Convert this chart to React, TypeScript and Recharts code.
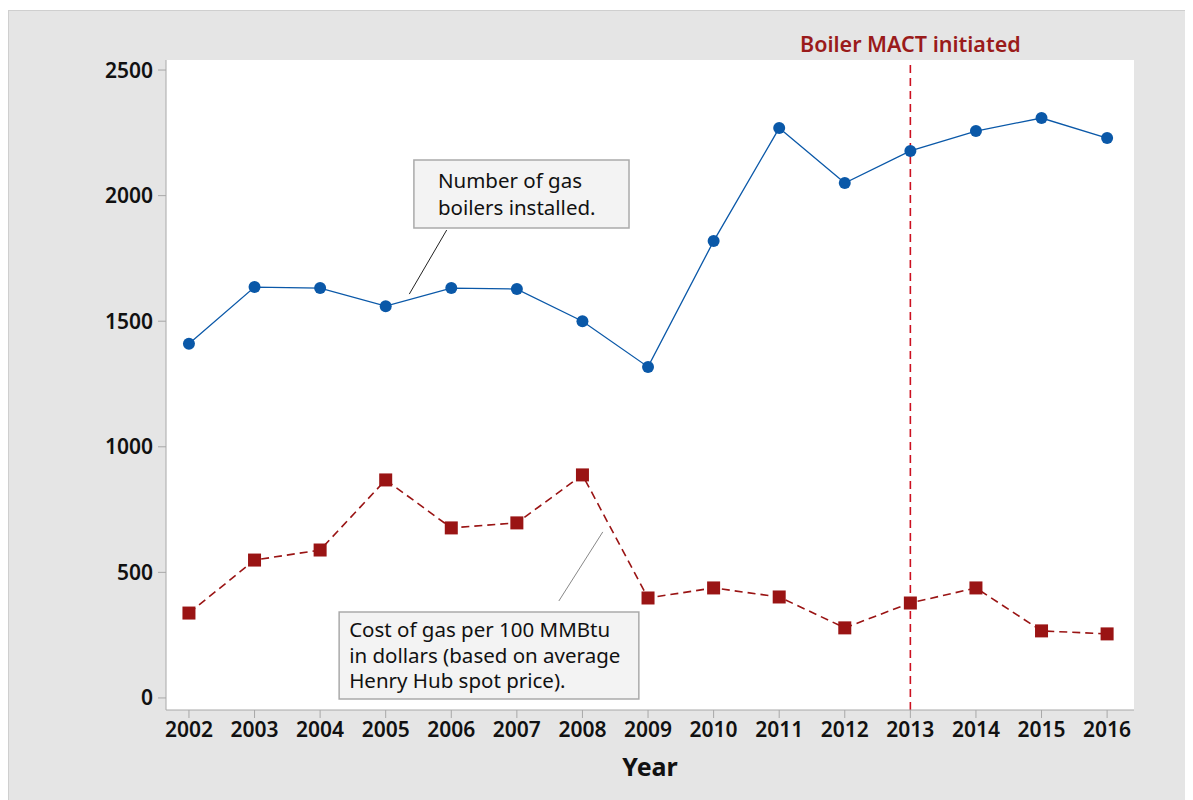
import React from 'react';
import {
  LineChart, Line, XAxis, YAxis, CartesianGrid, ReferenceLine, ReferenceArea, Label,
} from 'recharts';

const years = [2002, 2003, 2004, 2005, 2006, 2007, 2008, 2009, 2010, 2011, 2012, 2013, 2014, 2015, 2016];
const boilers = [1410, 1636, 1632, 1560, 1632, 1628, 1500, 1318, 1819, 2269, 2050, 2178, 2257, 2309, 2229];
const gasCost = [338, 549, 589, 868, 677, 697, 888, 398, 438, 402, 279, 378, 438, 267, 255];
const yTicks = [0, 500, 1000, 1500, 2000, 2500];
const mactYear = 2013;

const rows = years.map((y, i) => ({ year: y, boilers: boilers[i], cost: gasCost[i] }));

const FONT = '"Noto Sans", "Open Sans", sans-serif';
const BLUE = '#0a58a8';
const RED = '#9a1414';

const Square = (p: any) => {
  if (p.cx == null || p.cy == null) return null;
  return <rect x={p.cx - 6.5} y={p.cy - 6.5} width={13} height={13} fill={RED} />;
};

const boxText = (lines: string[], padX: number, padY: number, gap: number) => (props: any) => {
  const { x, y } = props.viewBox;
  return (
    <text x={x + padX} y={y + padY} fontSize={20.5} fontFamily={FONT} fill="#111">
      {lines.map((l, i) => (
        <tspan key={i} x={x + padX} dy={i === 0 ? 0 : gap}>{l}</tspan>
      ))}
    </text>
  );
};

export default function App() {
  return (
    <div style={{ marginTop: 2, width: 1185, height: 790, background: '#e5e5e5', borderTop: '1px solid #cfcfcf', borderLeft: '1px solid #cfcfcf', boxSizing: 'border-box' }}>
      <LineChart width={1184} height={789} data={rows} margin={{ top: 49, right: 59, bottom: 30, left: 0 }}>
        <CartesianGrid fill="#fff" horizontal={false} vertical={false} />
        <XAxis
          dataKey="year" type="number" domain={[2001.65, 2016.41]} ticks={years} allowDataOverflow
          height={60} tickSize={8} tickMargin={4} interval={0}
          axisLine={{ stroke: '#a8a8a8' }} tickLine={{ stroke: '#a8a8a8' }}
          tick={{ fontSize: 21, fontWeight: 600, fill: '#111', fontFamily: FONT }}
        >
          <Label value="Year" position="insideBottom" offset={0} dy={6} style={{ fontSize: 25, fontWeight: 700, fill: '#111', fontFamily: FONT }} />
        </XAxis>
        <XAxis xAxisId="top" orientation="top" dataKey="year" type="number" domain={[2001.65, 2016.41]} height={0} tick={false} tickLine={false} axisLine={{ stroke: '#bbb' }} />
        <YAxis
          domain={[-48, 2540]} ticks={yTicks} allowDataOverflow width={157} tickSize={8} tickMargin={5}
          axisLine={{ stroke: '#a8a8a8' }} tickLine={{ stroke: '#a8a8a8' }}
          tick={{ fontSize: 21, fontWeight: 600, fill: '#111', fontFamily: FONT }}
        />
        <YAxis yAxisId="right" orientation="right" domain={[-48, 2540]} width={0} tick={false} tickLine={false} axisLine={{ stroke: '#bbb' }} />

        <ReferenceArea x1={2005.43} x2={2008.71} y1={1871} y2={2142} fill="#f3f3f3" fillOpacity={1} stroke="#aaa" strokeWidth={1.5}
          label={boxText(['Number of gas', 'boilers installed.'], 24, 28, 27)} />
        <ReferenceLine segment={[{ x: 2005.93, y: 1863 }, { x: 2005.36, y: 1608 }]} stroke="#222" strokeWidth={1} />

        <ReferenceArea x1={2004.29} x2={2008.86} y1={-4} y2={342} fill="#f3f3f3" fillOpacity={1} stroke="#aaa" strokeWidth={1.5}
          label={boxText(['Cost of gas per 100 MMBtu', 'in dollars (based on average', 'Henry Hub spot price).'], 10, 25, 25.5)} />
        <ReferenceLine segment={[{ x: 2007.64, y: 386 }, { x: 2008.31, y: 661 }]} stroke="#888" strokeWidth={1} />

        <ReferenceLine x={mactYear} stroke="#cc1020" strokeWidth={1.6} strokeDasharray="8 5">
          <Label value="Boiler MACT initiated" position="top" offset={8} style={{ fontSize: 21.5, fontWeight: 600, fill: '#9a1b1b', fontFamily: FONT }} />
        </ReferenceLine>

        <Line dataKey="boilers" stroke={BLUE} strokeWidth={1.3} isAnimationActive={false}
          dot={{ r: 6, fill: BLUE, stroke: BLUE, strokeWidth: 0 }} activeDot={false} />
        <Line dataKey="cost" stroke={RED} strokeWidth={1.6} strokeDasharray="8 5" isAnimationActive={false}
          dot={<Square />} activeDot={false} />
      </LineChart>
    </div>
  );
}
